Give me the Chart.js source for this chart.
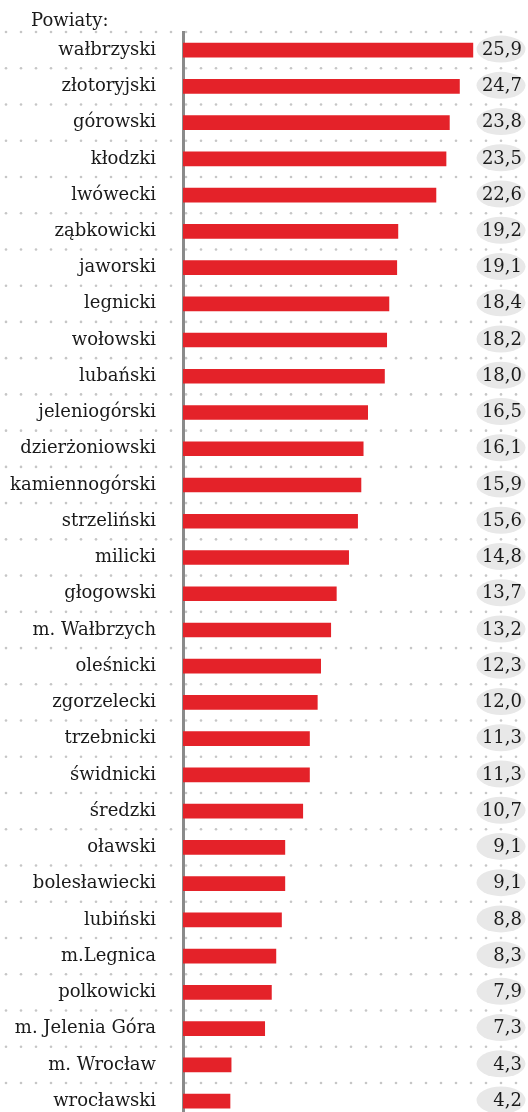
<!DOCTYPE html>
<html>
<head>
<meta charset="utf-8">
<script src="https://cdn.jsdelivr.net/npm/chart.js@4/dist/chart.umd.min.js"></script>
<style>
  html, body { margin:0; padding:0; width:528px; height:1112px; overflow:hidden; background:#fff; }
  #c { position:absolute; left:0; top:0; }
</style>
</head>
<body>
<canvas id="c" width="528" height="1130"></canvas>
<script>
const categories = ["wałbrzyski","złotoryjski","górowski","kłodzki","lwówecki","ząbkowicki","jaworski","legnicki","wołowski","lubański","jeleniogórski","dzierżoniowski","kamiennogórski","strzeliński","milicki","głogowski","m. Wałbrzych","oleśnicki","zgorzelecki","trzebnicki","świdnicki","średzki","oławski","bolesławiecki","lubiński","m.Legnica","polkowicki","m. Jelenia Góra","m. Wrocław","wrocławski"];
const values = [25.9,24.7,23.8,23.5,22.6,19.2,19.1,18.4,18.2,18.0,16.5,16.1,15.9,15.6,14.8,13.7,13.2,12.3,12.0,11.3,11.3,10.7,9.1,9.1,8.8,8.3,7.9,7.3,4.3,4.2];
const headerLabel = "Powiaty:";

const FONT = "'DejaVu Serif', serif";

const decor = {
  id: 'decor',
  beforeDraw(chart) {
    const ctx = chart.ctx;
    const ys = chart.scales.y;
    const step = (ys.bottom - ys.top) / categories.length;
    ctx.save();
    ctx.fillStyle = '#c6c6c6';
    for (let i = 0; i < categories.length; i++) {
      const y = ys.getPixelForValue(i) - step / 2;
      for (let x = 6; x <= 522; x += 15) {
        ctx.beginPath();
        ctx.arc(x, y, 1.3, 0, Math.PI * 2);
        ctx.fill();
      }
    }
    ctx.fillStyle = '#1a1a1a';
    ctx.font = "18px " + FONT;
    ctx.textAlign = 'left';
    ctx.textBaseline = 'alphabetic';
    ctx.fillText(headerLabel, 31, 26);
    ctx.restore();
  },
  afterDatasetsDraw(chart) {
    const ctx = chart.ctx;
    const ys = chart.scales.y;
    ctx.save();
    ctx.font = "18px " + FONT;
    ctx.textAlign = 'right';
    ctx.textBaseline = 'middle';
    values.forEach((v, i) => {
      const y = ys.getPixelForValue(i);
      ctx.fillStyle = '#e8e8e8';
      ctx.beginPath();
      ctx.ellipse(501, y - 1, 24.5, 13.5, 0, 0, Math.PI * 2);
      ctx.fill();
      ctx.fillStyle = '#1a1a1a';
      ctx.fillText(v.toFixed(1).replace('.', ','), 522, y);
    });
    ctx.restore();
  }
};

new Chart(document.getElementById('c'), {
  type: 'bar',
  data: {
    labels: categories,
    datasets: [{
      data: values,
      backgroundColor: '#e42229',
      borderWidth: 0,
      barThickness: 14
    }]
  },
  options: {
    indexAxis: 'y',
    responsive: false,
    maintainAspectRatio: false,
    animation: false,
    layout: { padding: { left: 0, right: 54, top: 32, bottom: 0 } },
    plugins: { legend: { display: false }, tooltip: { enabled: false }, title: { display: false } },
    scales: {
      x: { display: false, min: 0, max: 26 },
      y: {
        afterFit(scale) { scale.width = 183; },
        grid: { display: false, drawTicks: true, tickLength: 27 },
        border: { display: true, color: '#8a8a8a', width: 3 },
        ticks: { color: '#1a1a1a', font: { family: FONT, size: 18 }, padding: 0, autoSkip: false }
      }
    }
  },
  plugins: [decor]
});
</script>
</body>
</html>
